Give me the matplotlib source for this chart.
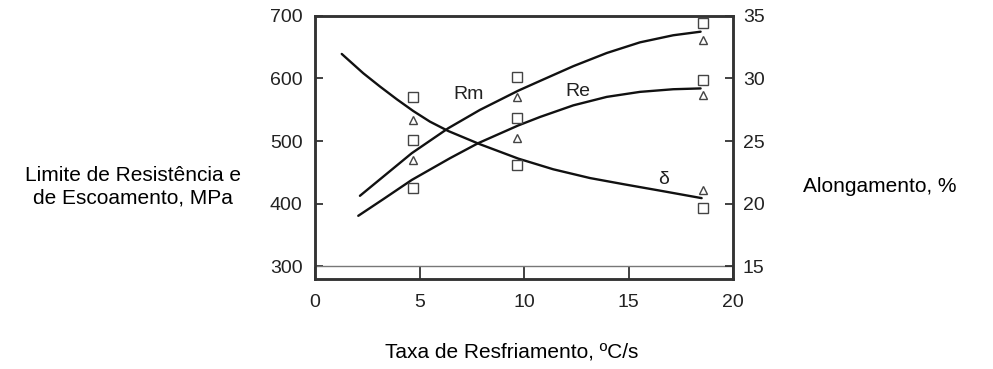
import matplotlib
matplotlib.use("Agg")
import matplotlib.pyplot as plt
import numpy as np

plt.rcParams['font.family'] = ['Liberation Sans', 'DejaVu Sans']

# ---- data ----
# fitted curves, MPa (left axis)
rm_x = [2.15, 3.27, 4.63, 6.38, 7.89, 9.73, 10.77, 12.36, 13.96, 15.55, 17.14, 18.45]
rm_y = [412.7, 443.4, 480.7, 520.6, 549.7, 580.5, 596.0, 619.5, 640.5, 657.5, 668.8, 674.5]
re_x = [2.07, 3.27, 4.63, 6.46, 7.81, 9.73, 10.77, 12.36, 13.96, 15.55, 17.14, 18.45]
re_y = [380.8, 407.4, 438.0, 472.7, 496.7, 525.0, 538.5, 557.0, 570.5, 578.5, 582.7, 584.0]
# elongation curve, % (right axis)
d_x = [1.28, 2.31, 3.11, 3.91, 4.70, 5.50, 6.38, 7.89, 9.73, 11.4, 13.16, 14.8, 16.5, 18.5]
d_y = [31.95, 30.41, 29.35, 28.34, 27.4, 26.55, 25.8, 24.75, 23.6, 22.75, 22.05, 21.55, 21.05, 20.45]

# measured points
pt_x = [4.7, 9.65, 18.55]
rm_sq = [501.0, 603.0, 688.0]
rm_tri = [470.0, 571.0, 661.0]
re_sq = [425.0, 536.5, 597.5]
re_tri = [np.nan, 505.0, 573.6]
d_sq = [28.55, 23.1, 19.65]
d_tri = [26.7, np.nan, 21.1]

x_ticks = [0, 5, 10, 15, 20]
left_ticks = [300, 400, 500, 600, 700]
right_ticks = [15, 20, 25, 30, 35]

labels = [("Rm", 7.34, 574.0), ("Re", 12.6, 579.0)]
delta_label = ("δ", 16.67, 21.95)

xlabel = "Taxa de Resfriamento, ºC/s"
ylabel_left = "Limite de Resistência e\nde Escoamento, MPa"
ylabel_right = "Alongamento, %"

# ---- figure ----
fig = plt.figure(figsize=(9.93, 3.69), dpi=100)
ax = fig.add_axes([315/993, 1-279/369, (733-315)/993, (279-15.7)/369])
ax2 = ax.twinx()

ax.set_xlim(0, 20)
ax.set_ylim(280, 700)
ax2.set_ylim(14, 35)

line_kw = dict(color='#111111', lw=1.7, solid_capstyle='round', solid_joinstyle='round')
ax.plot(rm_x, rm_y, **line_kw)
ax.plot(re_x, re_y, **line_kw)
ax2.plot(d_x, d_y, **line_kw)

mk = dict(linestyle='none', mfc='white', mec='#444444', mew=1.0)
ax.plot(pt_x, rm_sq, marker='s', ms=6.5, **mk)
ax.plot(pt_x, re_sq, marker='s', ms=6.5, **mk)
ax.plot(pt_x, rm_tri, marker='^', ms=6, **mk)
ax.plot(pt_x, re_tri, marker='^', ms=6, **mk)
ax2.plot(pt_x, d_sq, marker='s', ms=6.5, **mk)
ax2.plot(pt_x, d_tri, marker='^', ms=6, **mk)

ax.axhline(300, color='#777777', lw=1.0)

for t, x, y in labels:
    ax.text(x, y, t, fontsize=14, ha='center', va='center', color='#222222')
ax2.text(delta_label[1], delta_label[2], delta_label[0], fontsize=14,
         ha='center', va='center', color='#222222')

ax.set_xticks(x_ticks)
ax.set_yticks(left_ticks)
ax2.set_yticks(right_ticks)
ax.tick_params(axis='x', direction='in', length=8.8, width=1.3, color='#333333',
               labelsize=14, pad=11, top=False, labelcolor='#222222')
ax.tick_params(axis='y', direction='in', length=6, width=1.3, color='#333333',
               labelsize=14, pad=9, labelcolor='#222222')
ax2.tick_params(axis='y', direction='in', length=6, width=1.3, color='#333333',
                labelsize=14, pad=7, labelcolor='#222222')

for a in (ax, ax2):
    for s in a.spines.values():
        s.set_linewidth(1.8)
        s.set_color('#333333')

fig.text(512/993, 1-352/369, xlabel, fontsize=15, ha='center', va='center')
fig.text(133/993, 1-187/369, ylabel_left, fontsize=15, ha='center', va='center',
         linespacing=1.25)
fig.text(880/993, 1-187/369, ylabel_right, fontsize=15, ha='center', va='center')

fig.savefig("out.png", dpi=100)
